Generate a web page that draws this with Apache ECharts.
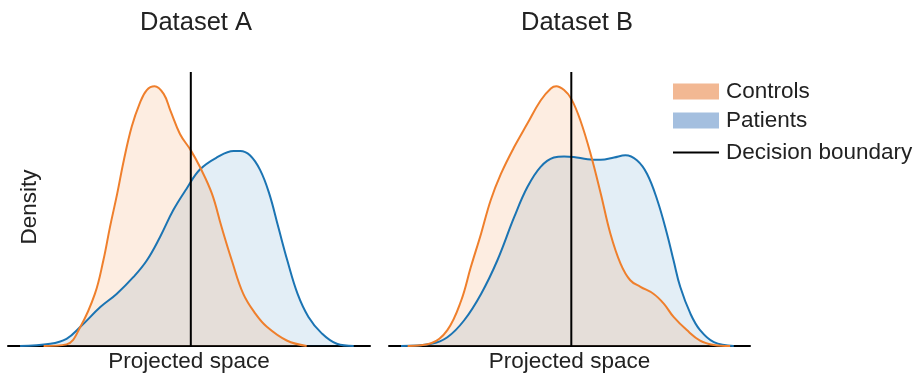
<!DOCTYPE html>
<html>
<head>
<meta charset="utf-8">
<script src="https://cdn.jsdelivr.net/npm/echarts@6/dist/echarts.min.js"></script>
<style>
html,body{margin:0;padding:0;background:#fff;}
#chart{width:917px;height:378px;}
</style>
</head>
<body>
<div id="chart"></div>
<script>
// ---- Data (projected-space position, density) ----
const panelTitles = ['Dataset A', 'Dataset B'];
const decisionBoundary = 0;

const xA_controls = [-2.44,-2.06,-1.83,-1.59,-1.45,-1.34,-1.22,-1.11,-0.98,-0.85,-0.73,-0.60,-0.45,-0.34,-0.18,0.00,0.15,0.35,0.51,0.68,0.87,1.07,1.26,1.59,1.92];
const yA_controls = [0,0.003,0.035,0.095,0.156,0.217,0.278,0.339,0.400,0.442,0.467,0.474,0.460,0.430,0.387,0.357,0.327,0.278,0.217,0.156,0.095,0.059,0.035,0.010,0];

const xA_patients = [-2.83,-2.33,-2.06,-1.83,-1.50,-1.23,-0.95,-0.73,-0.51,-0.29,-0.07,0.15,0.43,0.71,0.82,0.98,1.15,1.30,1.45,1.60,1.77,1.95,2.17,2.42,2.70];
const yA_patients = [0,0.004,0.013,0.035,0.071,0.095,0.126,0.156,0.199,0.248,0.287,0.322,0.344,0.356,0.356,0.348,0.321,0.278,0.217,0.156,0.095,0.053,0.023,0.004,0];

const xB_controls = [-2.72,-2.33,-2.06,-1.83,-1.67,-1.50,-1.34,-1.17,-0.95,-0.73,-0.51,-0.34,-0.25,-0.12,0.00,0.15,0.32,0.49,0.65,0.82,0.98,1.15,1.37,1.54,1.70,1.92,2.14,2.37,2.64];
const yB_controls = [0,0.005,0.029,0.083,0.144,0.205,0.266,0.314,0.363,0.406,0.448,0.470,0.474,0.467,0.451,0.412,0.351,0.278,0.205,0.150,0.120,0.108,0.095,0.077,0.053,0.029,0.010,0.002,0];

const xB_patients = [-2.83,-2.33,-2.06,-1.78,-1.50,-1.23,-0.95,-0.73,-0.51,-0.29,-0.12,0.04,0.27,0.49,0.71,0.90,1.09,1.26,1.43,1.59,1.70,1.81,1.98,2.14,2.37,2.70];
const yB_patients = [0,0.004,0.016,0.047,0.095,0.156,0.235,0.290,0.327,0.344,0.346,0.345,0.341,0.340,0.344,0.348,0.339,0.314,0.266,0.205,0.156,0.108,0.059,0.029,0.007,0];

const xRange = [-3.03, 2.97];
const yMax = 0.5;

// ---- Styles ----
const ORANGE = '#ef7f2c';
const BLUE = '#1b74b3';
const FONT = '"Liberation Sans", Arial, sans-serif';
const TXT = '#222222';

const zip = (xs, ys) => xs.map((x, i) => [x, ys[i]]);

function kdeSeries(name, xs, ys, color, fill, idx) {
  return {
    name, type: 'line', xAxisIndex: idx, yAxisIndex: idx,
    data: zip(xs, ys), smooth: 0.4, symbol: 'none', showSymbol: false,
    lineStyle: { color, width: 2 }, itemStyle: { color },
    areaStyle: { color: fill, opacity: 1 }, silent: true, z: 2
  };
}
function boundarySeries(idx) {
  return {
    name: 'Decision boundary', type: 'line', xAxisIndex: idx, yAxisIndex: idx,
    data: [[decisionBoundary, 0], [decisionBoundary, yMax]], symbol: 'none',
    lineStyle: { color: '#000', width: 2 }, itemStyle: { color: '#000' }, z: 5, silent: true
  };
}

const grids = [
  { left: 8, top: 72, width: 362, height: 274, outerBoundsMode: 'none', containLabel: false },
  { left: 389, top: 72, width: 361, height: 274, outerBoundsMode: 'none', containLabel: false }
];

const option = {
  animation: false,
  backgroundColor: '#fff',
  title: panelTitles.map((t, i) => ({
    text: t, left: i === 0 ? 191 : 572, top: 5, textAlign: 'center',
    textStyle: { fontFamily: FONT, fontSize: 25.5, fontWeight: 'normal', color: TXT }
  })),
  grid: grids,
  xAxis: grids.map((g, i) => ({
    type: 'value', gridIndex: i, min: xRange[0], max: xRange[1],
    axisLine: { show: true, onZero: false, lineStyle: { color: '#000', width: 2 } },
    axisTick: { show: false }, axisLabel: { show: false }, splitLine: { show: false },
    name: 'Projected space', nameLocation: 'middle', nameGap: 4,
    nameTextStyle: { fontFamily: FONT, fontSize: 22.5, color: TXT }
  })),
  yAxis: grids.map((g, i) => ({
    type: 'value', gridIndex: i, min: 0, max: yMax,
    axisLine: { show: false }, axisTick: { show: false }, axisLabel: { show: false }, splitLine: { show: false }
  })),
  legend: [
    { data: [{ name: 'Controls', icon: 'rect', itemStyle: { color: '#f2b893', borderWidth: 0 } }], top: 75, itemHeight: 16 },
    { data: [{ name: 'Patients', icon: 'rect', itemStyle: { color: '#a4bfdf', borderWidth: 0 } }], top: 104, itemHeight: 16 },
    { data: [{ name: 'Decision boundary', icon: 'rect', itemStyle: { color: '#000', borderWidth: 0 } }], top: 136, itemHeight: 2 }
  ].map(l => Object.assign({
    left: 668, orient: 'vertical', itemWidth: 46, itemGap: 10,
    selectedMode: false,
    textStyle: { fontFamily: FONT, fontSize: 22.5, color: TXT, padding: [0, 0, 0, 2] }
  }, l)),
  graphic: [{
    type: 'text', x: 30, y: 207, rotation: Math.PI / 2,
    style: { text: 'Density', fontFamily: FONT, fontSize: 22.5, fill: TXT, align: 'center', verticalAlign: 'middle' }
  }],
  series: [
    kdeSeries('Patients', xA_patients, yA_patients, BLUE, 'rgba(27,116,179,0.12)', 0),
    kdeSeries('Controls', xA_controls, yA_controls, ORANGE, 'rgba(239,127,44,0.14)', 0),
    boundarySeries(0),
    kdeSeries('Patients', xB_patients, yB_patients, BLUE, 'rgba(27,116,179,0.12)', 1),
    kdeSeries('Controls', xB_controls, yB_controls, ORANGE, 'rgba(239,127,44,0.14)', 1),
    boundarySeries(1)
  ]
};

const chart = echarts.init(document.getElementById('chart'), null, { renderer: 'canvas' });
chart.setOption(option);
</script>
</body>
</html>
